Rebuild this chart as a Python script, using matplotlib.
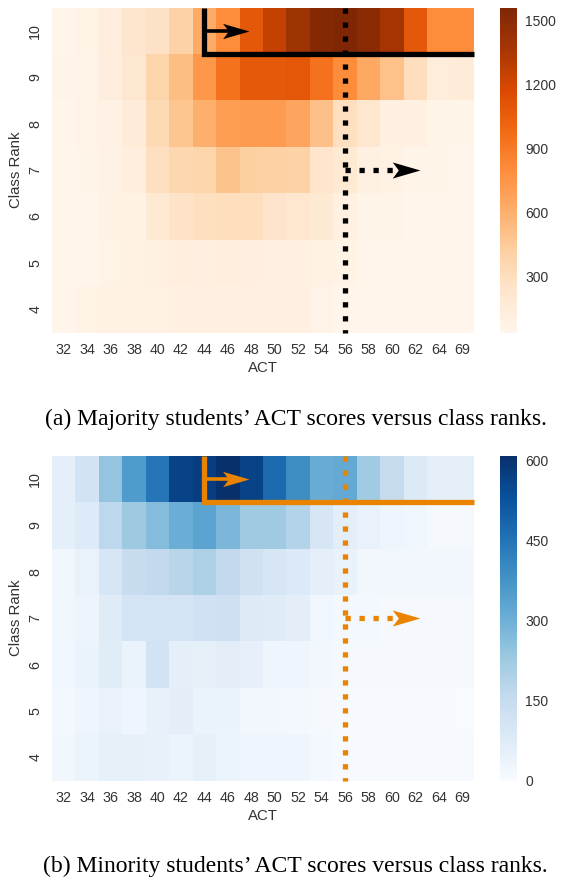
import numpy as np
import matplotlib
matplotlib.use("Agg")
import matplotlib.pyplot as plt
import seaborn as sns
from matplotlib.path import Path

# ---------------- data ----------------
act_labels = ["32", "34", "36", "38", "40", "42", "44", "46", "48", "50",
              "52", "54", "56", "58", "60", "62", "64", "69"]
rank_labels = ["10", "9", "8", "7", "6", "5", "4"]

maj_10 = [35, 65, 140, 230, 260, 400, 620, 800, 1085, 1255, 1410, 1535, 1560, 1505, 1380, 1085, 800, 800]
maj_9 = [50, 75, 140, 210, 375, 520, 740, 940, 1080, 1080, 1090, 940, 800, 640, 500, 300, 145, 165]
maj_8 = [40, 60, 90, 165, 340, 480, 600, 700, 715, 715, 660, 510, 290, 225, 100, 100, 55, 55]
maj_7 = [45, 55, 90, 130, 280, 360, 380, 490, 420, 405, 400, 235, 190, 100, 85, 55, 55, 45]
maj_6 = [35, 45, 90, 90, 190, 250, 285, 300, 300, 245, 225, 190, 100, 55, 55, 45, 35, 35]
maj_5 = [35, 45, 70, 90, 95, 120, 110, 130, 110, 105, 100, 85, 65, 35, 35, 35, 35, 35]
maj_4 = [35, 65, 90, 90, 90, 95, 95, 95, 95, 95, 95, 75, 45, 45, 45, 45, 45, 45]

min_10 = [55, 115, 245, 355, 445, 565, 575, 609, 565, 475, 390, 310, 318, 225, 152, 85, 55, 55]
min_9 = [55, 80, 170, 230, 265, 305, 335, 280, 228, 228, 190, 100, 60, 45, 27, 22, 8, 8]
min_8 = [20, 45, 100, 148, 160, 180, 200, 158, 120, 100, 85, 55, 45, 20, 20, 20, 20, 20]
min_7 = [25, 32, 76, 108, 108, 108, 125, 128, 78, 75, 60, 22, 16, 16, 8, 8, 8, 8]
min_6 = [22, 40, 70, 42, 115, 58, 54, 65, 50, 27, 27, 18, 8, 8, 8, 8, 8, 8]
min_5 = [14, 27, 45, 30, 47, 60, 40, 40, 20, 20, 12, 8, 4, 4, 4, 4, 4, 0]
min_4 = [17, 37, 54, 54, 47, 37, 54, 37, 27, 27, 27, 14, 4, 4, 4, 4, 4, 4]

majority = np.array([maj_10, maj_9, maj_8, maj_7, maj_6, maj_5, maj_4], dtype=float)
minority = np.array([min_10, min_9, min_8, min_7, min_6, min_5, min_4], dtype=float)

captions = ["(a) Majority students\u2019 ACT scores versus class ranks.",
            "(b) Minority students\u2019 ACT scores versus class ranks."]

# overlay reference points (ACT category of the thresholds)
solid_act = "44"
dotted_act = "56"
arrow_solid_end = 8.4     # in column units
arrow_dotted_end = 15.7   # in column units

# ---------------- style ----------------
sns.set_style("white")
plt.rcParams["font.family"] = ["Liberation Sans", "DejaVu Sans"]
txt_color = "#333333"

fig = plt.figure(figsize=(5.61, 8.82), dpi=100)

L, R = 52 / 561, 474 / 561
cb_l, cb_w = 500 / 561, 17 / 561
panels = [
    (majority, "Oranges", "black", [300, 600, 900, 1200, 1500], 7.5, 332.5, 419),
    (minority, "Blues", "#ea8300", [0, 150, 300, 450, 600], 455.7, 780.7, 866),
]

# notched arrowhead marker (tip at origin)
head_path = Path([(0, 0), (-1, 0.29), (-0.78, 0), (-1, -0.29), (0, 0)],
                 [Path.MOVETO, Path.LINETO, Path.LINETO, Path.LINETO, Path.CLOSEPOLY])

for data, cmap, lc, cticks, top_px, bot_px, cap_px in panels:
    ax = fig.add_axes([L, 1 - bot_px / 882, R - L, (bot_px - top_px) / 882])
    cax = fig.add_axes([cb_l, 1 - bot_px / 882, cb_w, (bot_px - top_px) / 882])
    sns.heatmap(data, ax=ax, cbar_ax=cax, cmap=cmap,
                xticklabels=act_labels, yticklabels=rank_labels)
    ax.tick_params(axis="x", length=0, colors=txt_color, labelsize=10.3, pad=7.5)
    ax.tick_params(axis="y", length=0, colors=txt_color, labelsize=10.3, pad=7)
    for lab in ax.get_yticklabels():
        lab.set_rotation(90)
        lab.set_va("center")
    for lab in ax.get_xticklabels():
        lab.set_rotation(0)
    ax.set_xlabel("ACT", fontsize=10.8, color=txt_color, labelpad=3)
    ax.set_ylabel("Class Rank", fontsize=10.8, color=txt_color, labelpad=4)
    cax.tick_params(length=0, colors=txt_color, labelsize=10, pad=6)
    cax.set_yticks(cticks)
    cax.set_yticklabels([str(t) for t in cticks])
    for s in cax.spines.values():
        s.set_visible(False)

    xs = act_labels.index(solid_act) + 0.5
    xd = act_labels.index(dotted_act) + 0.5
    ncol = len(act_labels)
    nrow = len(rank_labels)
    row10 = rank_labels.index("10") + 0.5
    row7 = rank_labels.index("7") + 0.5

    # solid L-shape
    ax.plot([xs, xs, ncol], [0, 1, 1], color=lc, lw=3.8, solid_joinstyle="miter",
            solid_capstyle="butt", clip_on=False, zorder=5)
    # solid arrow
    ax.plot([xs, arrow_solid_end - 0.6], [row10, row10], color=lc, lw=2.6,
            solid_capstyle="butt", zorder=5)
    ax.plot([arrow_solid_end], [row10], marker=head_path, markersize=38, color=lc,
            markeredgewidth=0, linestyle="none", zorder=6)
    # dotted vertical
    ax.plot([xd, xd], [0, nrow], color=lc, lw=3.8, linestyle=":", dash_capstyle="butt",
            clip_on=False, zorder=5)
    # dotted arrow
    ax.plot([xd, arrow_dotted_end - 1.0], [row7, row7], color=lc, lw=3.8, linestyle=":",
            dash_capstyle="butt", zorder=5)
    ax.plot([arrow_dotted_end], [row7], marker=head_path, markersize=40, color=lc,
            markeredgewidth=0, linestyle="none", zorder=6)

for cap, (_, _, _, _, _, _, cap_px) in zip(captions, panels):
    fig.text(0.527, 1 - cap_px / 882, cap, ha="center", va="center",
             fontsize=17, family=["Liberation Serif", "DejaVu Serif"], color="black")

fig.savefig("out.png", dpi=100)
